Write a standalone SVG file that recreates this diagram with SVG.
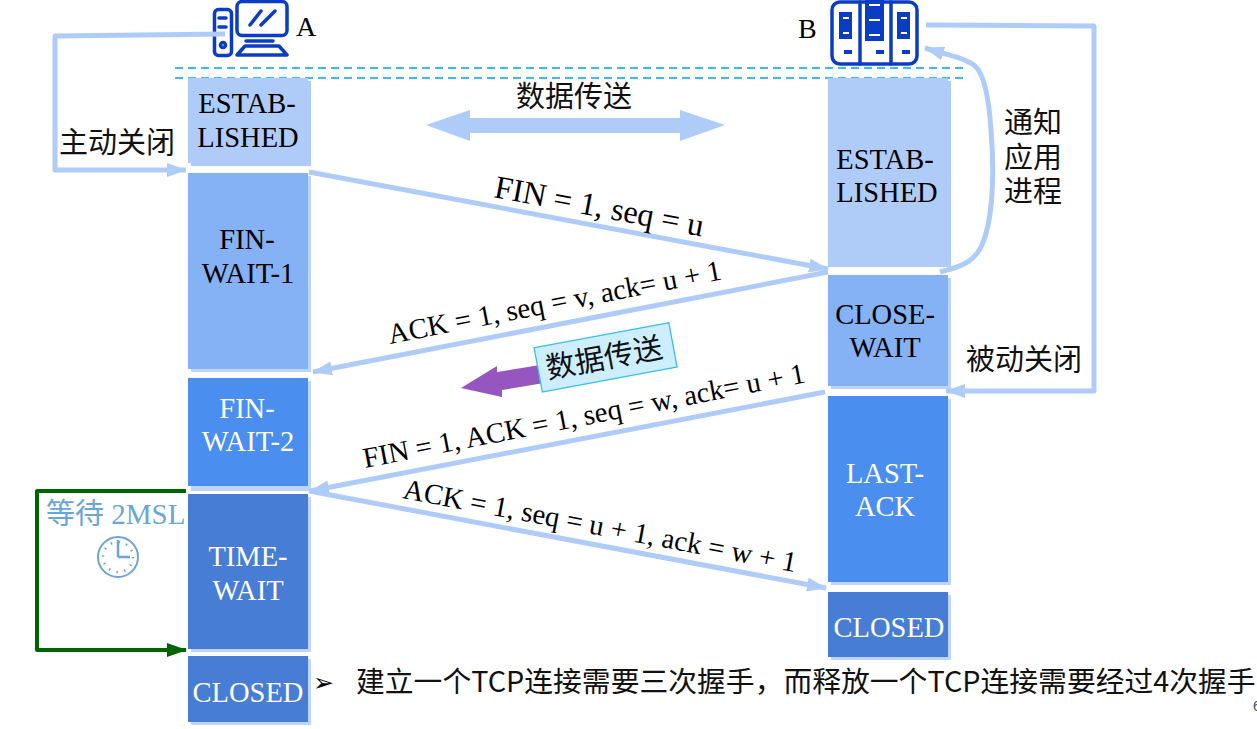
<svg xmlns="http://www.w3.org/2000/svg" width="1257" height="729" viewBox="0 0 1257 729">
<style>
text{font-family:"Liberation Serif","Noto Sans CJK SC",serif;font-size:28.5px;fill:#000}
.m{text-anchor:middle}
.w{fill:#fff}
.cn{font-family:"Noto Sans CJK SC","Liberation Sans",sans-serif;font-size:29px;font-weight:400;fill:#111}
.lab{font-size:28.8px}
.sh{fill:#bdd5fb}
.c{fill:none;stroke:#afccf9;stroke-width:5;stroke-linejoin:round}
.ic{fill:none;stroke:#0b3cc4;stroke-width:3.500;stroke-linejoin:round;stroke-linecap:round}
.if{fill:#0b3cc4}
.d{stroke:#38bdf2;stroke-width:2;stroke-dasharray:8 5}
</style>
<defs>
<marker id="a" viewBox="0 0 20 14" refX="19" refY="7" markerWidth="20" markerHeight="14" markerUnits="userSpaceOnUse" orient="auto"><path d="M0 0L20 7L0 14Z" fill="#afccf9"/></marker>
<marker id="g" viewBox="0 0 20 14" refX="19" refY="7" markerWidth="20" markerHeight="14" markerUnits="userSpaceOnUse" orient="auto"><path d="M0 0L20 7L0 14Z" fill="#006400"/></marker>
</defs>
<g id="guides">
<line class="d" x1="175" y1="68" x2="965" y2="68"/>
<line class="d" x1="175" y1="78" x2="965" y2="78"/>
</g>
<g id="host-a">
<rect class="ic" x="214.500" y="9.500" width="17" height="46" rx="4"/>
<path class="ic" d="M219 18H226M219 27H226"/>
<circle class="ic" cx="223" cy="45" r="2.500"/>
<rect class="ic" x="237" y="1.500" width="50" height="34" rx="5"/>
<path class="ic" d="M250 25L261 11M261 25L275 11M246 41H273M237 55L245 46H279L287 55Z"/>
</g>
<text x="296" y="36" style="font-size:28px">A</text>
<g id="host-b">
<rect class="ic" x="832" y="2" width="85" height="62" rx="8"/>
<path class="ic" d="M860 2V64M891 2V64"/>
<rect class="if" x="839" y="12" width="13" height="27"/><rect class="if" x="865" y="0" width="19" height="41"/><rect class="if" x="897" y="12" width="13" height="27"/>
<path d="M843 18h6M843 33h6M869 5h11M869 20h11M869 35h11M901 18h6M901 33h6" stroke="#fff" stroke-width="2"/>
<path class="if" d="M844 50h8v4h-8zM876 50h8v4h-8zM902 50h8v4h-8z"/>
</g>
<text x="798" y="38" style="font-size:28px">B</text>
<g id="a-estab"><rect x="191" y="81" width="120" height="85" fill="#afccf9"/><rect x="188" y="78" width="120" height="85" fill="#afccf9"/><text class="m" x="247" y="113">ESTAB-</text><text class="m" x="248" y="147">LISHED</text></g>
<g id="a-fw1"><rect class="sh" x="191" y="176" width="120" height="196"/><rect x="188" y="173" width="120" height="196" fill="#85b1f5"/><text class="m" x="247" y="249">FIN-</text><text class="m" x="248" y="283">WAIT-1</text></g>
<g id="a-fw2"><rect class="sh" x="191" y="381" width="120" height="110"/><rect x="188" y="378" width="120" height="108" fill="#4a8ef0"/><text class="m w" x="247" y="418">FIN-</text><text class="m w" x="248" y="451">WAIT-2</text></g>
<g id="a-tw"><rect class="sh" x="191" y="497" width="120" height="155"/><rect x="188" y="494" width="120" height="155" fill="#477dd5"/><text class="m w" x="248" y="566">TIME-</text><text class="m w" x="248" y="600">WAIT</text></g>
<g id="a-closed"><rect class="sh" x="191" y="659" width="120" height="66"/><rect x="188" y="656" width="120" height="66" fill="#477dd5"/><text class="m w" x="248" y="702">CLOSED</text></g>
<g id="b-estab"><rect x="831" y="81" width="120" height="186" fill="#afccf9"/><rect x="828" y="78" width="120" height="189" fill="#afccf9"/><text class="m" x="885" y="169">ESTAB-</text><text class="m" x="887" y="202">LISHED</text></g>
<g id="b-cw"><rect class="sh" x="831" y="278" width="120" height="111"/><rect x="828" y="275" width="120" height="111" fill="#85b1f5"/><text class="m" x="885" y="324">CLOSE-</text><text class="m" x="885" y="357">WAIT</text></g>
<g id="b-la"><rect class="sh" x="831" y="399" width="120" height="186"/><rect x="828" y="396" width="120" height="186" fill="#4a8ef0"/><text class="m w" x="885" y="483">LAST-</text><text class="m w" x="885" y="516">ACK</text></g>
<g id="b-closed"><rect class="sh" x="831" y="595" width="120" height="65"/><rect x="828" y="592" width="120" height="65" fill="#477dd5"/><text class="m w" x="889" y="637">CLOSED</text></g>
<g id="connectors">
<path class="c" d="M225 34L55 36V170H186" marker-end="url(#a)"/>
<path class="c" d="M926 25L1094 26V391H946" marker-end="url(#a)"/>
<path class="c" d="M940 272C965 266 975 260 982 245C992 222 995 180 991 130C989 100 985 75 975 66C965 58 945 54 925 48" marker-end="url(#a)"/>
<path class="c" d="M309 172L828 269" marker-end="url(#a)"/>
<path class="c" d="M828 272L313 372" marker-end="url(#a)"/>
<path class="c" d="M825 392L310 491" marker-end="url(#a)"/>
<path class="c" d="M309 491L826 588" marker-end="url(#a)"/>
<path d="M186 491H37V650H186" fill="none" stroke="#006400" stroke-width="4" stroke-linejoin="round" marker-end="url(#g)"/>
</g>
<path id="transfer-arrow" d="M426 125L470 110V118H680V110L725 125L680 141V133H470V141Z" fill="#afccf9"/>
<text class="cn" x="574" y="107" text-anchor="middle">数据传送</text>
<path id="purple-arrow" d="M461 388L497 366L497 372L540 365L544 383L502 390L502 397Z" fill="#9556c0"/>
<g transform="rotate(-10.500 605 357)">
<rect x="537" y="335" width="137" height="45" fill="#cceeff" stroke="#38bdf2" stroke-width="1.300"/>
<text class="cn" x="604" y="368" text-anchor="middle" style="font-size:29.500px">数据传送</text>
</g>
<text class="lab" transform="translate(493 197) rotate(10.700)" style="font-size:32.300px">FIN = 1, seq = u</text>
<text class="lab" transform="translate(390 344) rotate(-11)">ACK = 1, seq = v, ack= u + 1</text>
<text class="lab" transform="translate(365 468) rotate(-11)">FIN = 1, ACK = 1, seq = w, ack= u + 1</text>
<text class="lab" transform="translate(402 498) rotate(10.700)">ACK = 1, seq = u + 1, ack = w + 1</text>
<text class="cn" x="59" y="153">主动关闭</text>
<text class="cn" x="1004" y="133">通知</text>
<text class="cn" x="1004" y="168">应用</text>
<text class="cn" x="1004" y="202">进程</text>
<text class="cn" x="966" y="370">被动关闭</text>
<text x="46" y="524" style="font-size:29px;fill:#6aa5d8">等待 2MSL</text>
<g id="clock" fill="none" stroke="#6aa5d8">
<circle cx="118" cy="557" r="20" stroke-width="2"/>
<path d="M118 557V540M118 557H130" stroke-width="2.500"/>
<circle cx="118" cy="557" r="15" stroke-width="2.500" stroke-dasharray="1.500 6.350"/>
</g>
<text x="313" y="691" style="font-size:25px;font-family:'DejaVu Sans',sans-serif">➢</text>
<text class="cn" x="356" y="692" style="font-size:28.800px">建立一个TCP连接需要三次握手，而释放一个TCP连接需要经过4次握手</text>
<text x="1253" y="711" style="font-size:14px;fill:#44546a;font-family:'Liberation Sans',sans-serif">6</text>
</svg>
